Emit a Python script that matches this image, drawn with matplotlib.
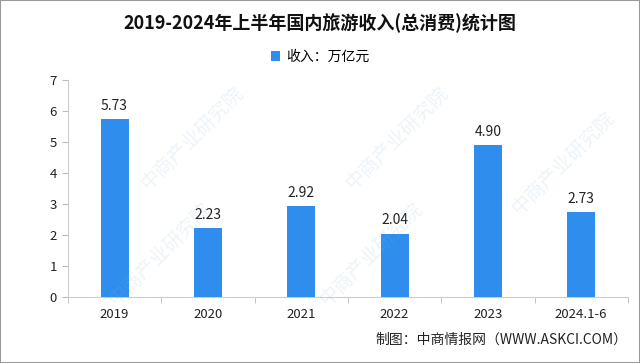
import matplotlib
matplotlib.use("Agg")
import matplotlib.pyplot as plt

plt.rcParams['font.family'] = ['Noto Sans CJK SC', 'DejaVu Sans']

categories = ["2019", "2020", "2021", "2022", "2023", "2024.1-6"]
values = [5.73, 2.23, 2.92, 2.04, 4.90, 2.73]
title = "2019-2024年上半年国内旅游收入(总消费)统计图"
legend_label = "收入：万亿元"
source = "制图：中商情报网（WWW.ASKCI.COM）"

fig = plt.figure(figsize=(6.4, 3.63), dpi=100)
ax = fig.add_axes([0.106, 0.182, 0.875, 0.598])

color = "#2f8ded"
x = range(len(categories))
bars = ax.bar(x, values, width=0.3, color=color, label=legend_label, zorder=3)
for xi, v in zip(x, values):
    ax.text(xi, v + 0.2, f"{v:.2f}", ha="center", va="bottom", fontsize=10, color="#222222")

ax.set_xlim(-0.5, len(categories) - 0.5)
ax.set_ylim(0, 7)
ax.set_yticks(range(0, 8))
ax.set_xticks(list(x))
ax.set_xticklabels(categories)
ax.set_xticks([i + 0.5 for i in range(-1, len(categories))], minor=True)
ax.tick_params(axis="x", which="major", length=0, labelsize=9.5, pad=8, colors="#222222")
ax.tick_params(axis="x", which="minor", length=4, color="#bbbbbb")
ax.tick_params(axis="y", length=4, color="#bbbbbb", labelsize=9.5, colors="#222222", pad=4)
for s in ["top", "right"]:
    ax.spines[s].set_visible(False)
ax.spines["left"].set_color("#cccccc")
ax.spines["bottom"].set_color("#cccccc")

fig.text(0.5, 0.935, title, ha="center", va="center", fontsize=13, fontweight="bold", color="#111111")
fig.legend(handles=[bars], labels=[legend_label], loc="center", bbox_to_anchor=(0.5, 0.843),
           frameon=False, fontsize=10, handlelength=0.7, handleheight=0.7, handletextpad=0.4)
fig.text(0.98, 0.065, source, ha="right", va="center", fontsize=10, color="#222222")

# faint watermarks (kept inside the picture)
for (wx, wy) in [(0.3, 0.62), (0.62, 0.62), (0.88, 0.55), (0.25, 0.3), (0.58, 0.3)]:
    fig.text(wx, wy, "中商产业研究院", rotation=45, fontsize=14, color="#7fb3e0", alpha=0.15,
             ha="center", va="center", zorder=0)

border = plt.Rectangle((0, 0), 1, 1, transform=fig.transFigure, fill=False, edgecolor="#999999", linewidth=1.5)
fig.patches.append(border)

fig.savefig("out.png", dpi=100)
